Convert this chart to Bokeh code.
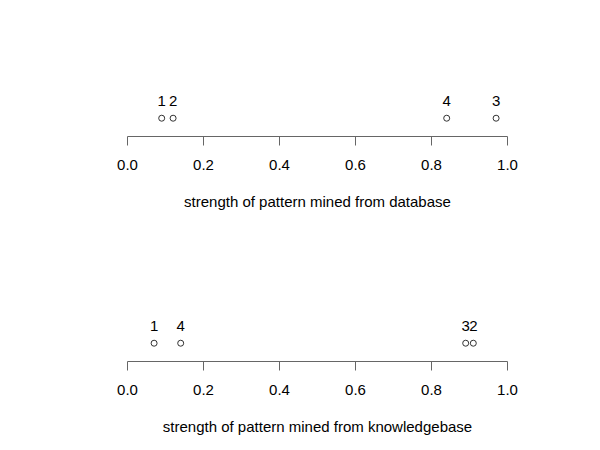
from bokeh.plotting import figure
from bokeh.models import Range1d, FixedTicker, ColumnDataSource
from bokeh.layouts import column
from bokeh.embed import file_html
from bokeh.resources import INLINE
from bokeh.core.properties import value

# data
db_labels = ["1", "2", "4", "3"]
db_values = [0.09, 0.12, 0.84, 0.97]
kb_labels = ["1", "4", "3", "2"]
kb_values = [0.07, 0.14, 0.89, 0.91]
tick_values = [0.0, 0.2, 0.4, 0.6, 0.8, 1.0]
tick_labels = ["0.0", "0.2", "0.4", "0.6", "0.8", "1.0"]
titles = ["strength of pattern mined from database",
          "strength of pattern mined from knowledgebase"]

FONT = "Liberation Sans"
FS = "15px"


def panel(vals, labs, title, height, top, bottom):
    p = figure(width=600, height=height, output_backend="svg", toolbar_location=None,
               x_range=Range1d(0, 1), y_range=Range1d(-1, 6),
               min_border_left=127, min_border_right=93, min_border_top=top,
               min_border_bottom=bottom, y_axis_location=None)
    p.outline_line_color = None
    p.xgrid.visible = False
    p.ygrid.visible = False
    p.background_fill_color = "white"
    p.border_fill_color = "white"
    src = ColumnDataSource(dict(x=vals, y=[0] * len(vals), t=labs))
    p.scatter("x", "y", source=src, size=6, marker="circle", fill_color=None,
              line_color="#333333", line_width=1)
    p.text("x", "y", text="t", source=src, text_align="center", text_baseline="middle",
           y_offset=-17, text_font=value(FONT), text_font_size=FS, text_color="black")
    ax = p.xaxis[0]
    ax.ticker = FixedTicker(ticks=tick_values)
    ax.major_label_overrides = {v: l for v, l in zip(tick_values, tick_labels)}
    ax.axis_line_color = "#666666"
    ax.major_tick_line_color = "#666666"
    ax.major_tick_out = 9
    ax.major_tick_in = 0
    ax.minor_tick_out = 0
    ax.minor_tick_in = 0
    ax.major_label_standoff = 14
    ax.major_label_text_font = FONT
    ax.major_label_text_font_size = FS
    ax.major_label_text_color = "black"
    ax.axis_label = title
    ax.axis_label_text_font = FONT
    ax.axis_label_text_font_size = "15px"
    ax.axis_label_text_font_style = "normal"
    ax.axis_label_text_color = "black"
    ax.axis_label_standoff = 20
    return p


p1 = panel(db_values, db_labels, titles[0], 233, 8, 97)
p2 = panel(kb_values, kb_labels, titles[1], 217, 0, 89)
p = column(p1, p2, spacing=0)

open("out.html", "w").write(file_html(p, INLINE))
